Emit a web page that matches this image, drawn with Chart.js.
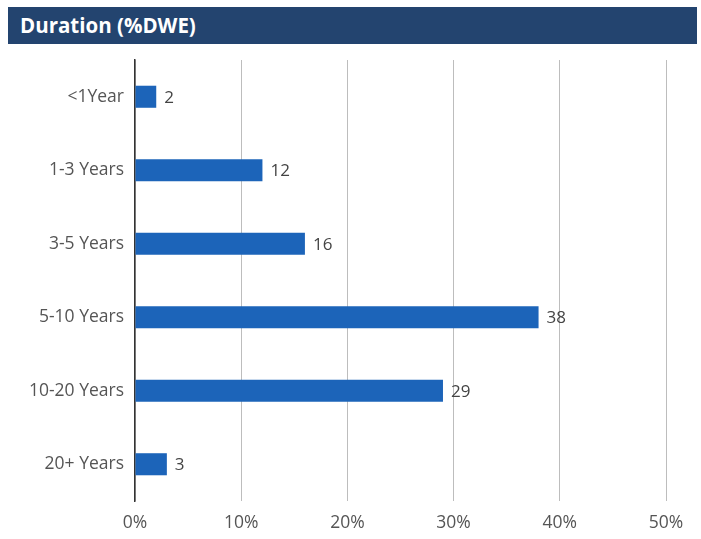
<!DOCTYPE html>
<html>
<head>
  <script src="https://cdn.jsdelivr.net/npm/chart.js"></script>
  <title>Duration (%DWE)</title>
  <style>
    body { margin: 0; background: #fff; }
    #wrap { position: relative; width: 701px; height: 539px; }
    #header {
      position: absolute; left: 8px; top: 7px; width: 689px; height: 37px;
      background: #23446f; color: #fff;
      font: bold 20.5px "Open Sans", sans-serif;
      line-height: 37px; padding-left: 12px; box-sizing: border-box;
    }
    #chart { position: absolute; left: 0; top: 0; }
  </style>
</head>
<body>
  <div id="wrap">
    <canvas id="chart" width="701" height="539"></canvas>
    <div id="header">Duration (%DWE)</div>
  </div>

  <script>
    // Data
    const categories = ['<1Year', '1-3 Years', '3-5 Years', '5-10 Years', '10-20 Years', '20+ Years'];
    const weights = [2, 12, 16, 38, 29, 3];
    const xTicks = [0, 10, 20, 30, 40, 50];

    // Value label drawn just past the end of each bar
    const valueLabels = {
      id: 'valueLabels',
      afterDatasetsDraw(chart) {
        const ctx = chart.ctx;
        const meta = chart.getDatasetMeta(0);
        ctx.save();
        ctx.font = '17px "Open Sans", sans-serif';
        ctx.fillStyle = '#444';
        ctx.textBaseline = 'middle';
        ctx.textAlign = 'left';
        meta.data.forEach((bar, i) => {
          ctx.fillText(weights[i], bar.x + 8, bar.y + 1);
        });
        ctx.restore();
      }
    };

    new Chart(document.getElementById('chart'), {
      type: 'bar',
      data: {
        labels: categories,
        datasets: [{
          data: weights,
          backgroundColor: '#1c64b9',
          barPercentage: 0.6,
          categoryPercentage: 0.5
        }]
      },
      options: {
        indexAxis: 'y',
        responsive: false,
        animation: false,
        layout: { padding: { top: 60, right: 35, bottom: 0, left: 0 } },
        plugins: { legend: { display: false }, tooltip: { enabled: false } },
        scales: {
          x: {
            min: 0, max: 50,
            afterBuildTicks(scale) { scale.ticks = xTicks.map(v => ({ value: v })); },
            afterFit(scale) { scale.height = 38; },
            grid: { color: '#bdbdbd', lineWidth: 1, drawTicks: false },
            border: { display: false },
            ticks: {
              padding: 12,
              color: '#555',
              font: { family: 'Open Sans', size: 17.5 },
              callback: v => v + '%'
            }
          },
          y: {
            afterFit(scale) { scale.width = 135; },
            grid: { display: false, drawTicks: false },
            border: { color: '#333', width: 1.5 },
            ticks: {
              padding: 11,
              color: '#555',
              font: { family: 'Open Sans', size: 17.5 }
            }
          }
        }
      },
      plugins: [valueLabels]
    });
  </script>
</body>
</html>
